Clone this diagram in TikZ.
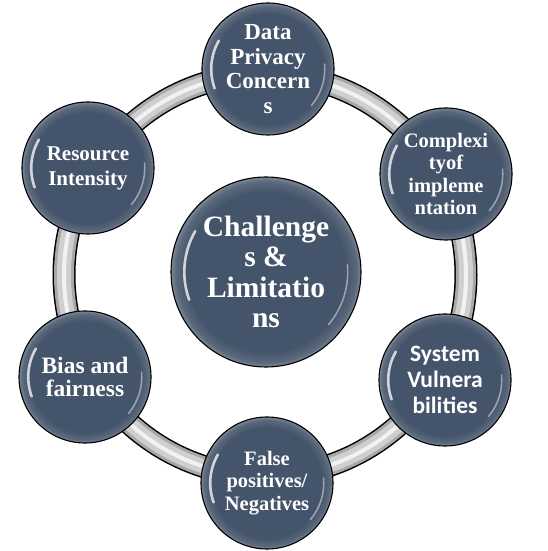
\documentclass[tikz,border=0pt]{standalone}
\usepackage{fontspec}
\usetikzlibrary{calc}
\setmainfont{Liberation Serif}
\newfontfamily\calib{Carlito}
\definecolor{baseblue}{HTML}{44546A}
\pgfdeclareradialshading{glossball}{\pgfpointorigin}{%
 color(0bp)=(baseblue); color(21bp)=(baseblue); color(23.8bp)=(baseblue!88!white);
 color(25bp)=(baseblue!70!white); color(50bp)=(baseblue!70!white)}
\tikzset{
  bubble/.style={circle, draw=black, line width=1.1pt, shade, shading=glossball,
    inner sep=0pt, align=center, text=white},
  sat/.style={bubble, minimum size=132pt},
  hub/.style={bubble, minimum size=190pt},
  fs/.style 2 args={font=\bfseries\fontsize{#1}{#2}\selectfont},
  hilite/.style={white, line cap=round}
}
\begin{document}
\begin{tikzpicture}[x=1pt,y=1pt]
\useasboundingbox (0,0) rectangle (547,551);
\coordinate (ringc) at (265,276);
% ring band
\draw[black, line width=23pt] (ringc) circle[radius=201pt];
\draw[gray!68, line width=20pt] (ringc) circle[radius=201pt];
\draw[gray!38, line width=14pt] (ringc) circle[radius=201pt];
\draw[gray!10, line width=4pt] (ringc) circle[radius=201pt];
% nodes
\node[hub, fs={29.5}{30.5}] (hub) at (266,279) {Challenge\\s \&\\Limitatio\\ns};
\node[sat, fs={23}{24.7}] (top) at (268,482) {Data\\Privacy\\Concern\\s};
\node[sat, fs={20.5}{22.5}] (ur) at (446,377) {Complexi\\tyof\\impleme\\ntation};
\node[sat, font=\calib\bfseries\fontsize{23.5}{26}\selectfont] (lr) at (445,171) {System\\Vulnera\\bilities};
\node[sat, fs={20.5}{22.5}] (bot) at (267,68) {False\\positives/\\Negatives};
\node[sat, fs={23.5}{23.5}] (ll) at (85,174) {Bias and\\fairness};
\node[sat, fs={21}{25}] (ul) at (88,383) {Resource\\Intensity};
% glossy highlights
\foreach \n/\r in {top/66,ur/66,lr/66,bot/66,ll/66,ul/66,hub/95}{
  \draw[hilite, line width=2.6pt, opacity=0.75]
    ($(\n.center)+(150:0.86*\r)$) arc[start angle=150, end angle=200, radius=0.86*\r];
  \draw[hilite, line width=1.6pt, opacity=0.45]
    ($(\n.center)+(-40:0.86*\r)$) arc[start angle=-40, end angle=5, radius=0.86*\r];
}
\end{tikzpicture}
\end{document}
